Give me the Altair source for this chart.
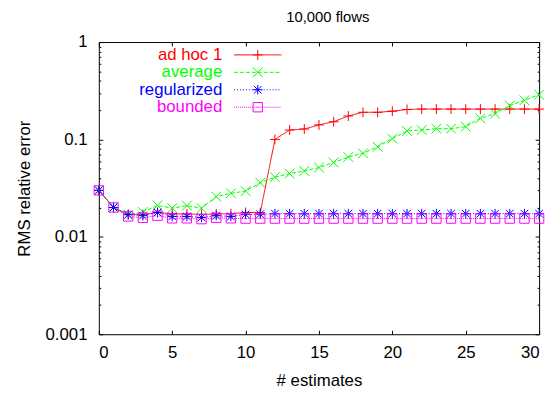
import altair as alt
import pandas as pd

# ---------------- data ----------------
x_vals = list(range(31))
ad_hoc = [0.030, 0.020, 0.0170, 0.0170, 0.0178, 0.0172, 0.0172, 0.0170, 0.0172, 0.0173,
          0.0178, 0.0177, 0.100, 0.125, 0.128, 0.141, 0.152, 0.174, 0.190, 0.190,
          0.195, 0.203, 0.205, 0.205, 0.205, 0.205, 0.205, 0.205, 0.205, 0.205, 0.205]
average = [0.030, 0.0202, 0.0169, 0.0180, 0.0210, 0.0197, 0.0209, 0.0197, 0.0259, 0.0280,
           0.0295, 0.0360, 0.0410, 0.0446, 0.0474, 0.0515, 0.058, 0.066, 0.072, 0.084,
           0.102, 0.122, 0.125, 0.129, 0.129, 0.135, 0.165, 0.184, 0.223, 0.252, 0.288]
regularized = [0.030, 0.020, 0.0169, 0.0165, 0.0178, 0.0162, 0.0162, 0.0158, 0.0165, 0.0162,
               0.0170, 0.0171, 0.0173, 0.0173, 0.0173, 0.0173, 0.0173, 0.0173, 0.0173, 0.0173,
               0.0173, 0.0173, 0.0173, 0.0173, 0.0173, 0.0173, 0.0173, 0.0173, 0.0173, 0.0173, 0.0173]
bounded = [0.030, 0.020, 0.0162, 0.0157, 0.0165, 0.0155, 0.0155, 0.0152, 0.0157, 0.0155,
           0.0154, 0.0154, 0.0154, 0.0154, 0.0154, 0.0154, 0.0154, 0.0154, 0.0154, 0.0154,
           0.0154, 0.0154, 0.0154, 0.0154, 0.0154, 0.0154, 0.0154, 0.0154, 0.0154, 0.0154, 0.0154]

series_names = ["ad hoc 1", "average", "regularized", "bounded"]
series_values = [ad_hoc, average, regularized, bounded]
colors = ["#ff0000", "#00ff00", "#0000ff", "#ff00ff"]
dashes = [[1, 0], [4, 2], [1, 2], [1, 1]]
shapes = ["M-1,0L1,0M0,-1L0,1",
          "M-1,-1L1,1M-1,1L1,-1",
          "M-1,0L1,0M0,-1L0,1M-0.8,-0.8L0.8,0.8M-0.8,0.8L0.8,-0.8",
          "M-1,-1L1,-1L1,1L-1,1ZM-0.1,0L0.1,0"]
sizes = [100, 90, 90, 70]

x_ticks = [0, 5, 10, 15, 20, 25, 30]
y_major = [0.001, 0.01, 0.1, 1]
y_minor = [m * 10.0 ** e for e in (-3, -2, -1) for m in range(2, 10)]

rows = []
for name, vals in zip(series_names, series_values):
    for xv, yv in zip(x_vals, vals):
        rows.append({"x": xv, "value": yv, "series": name})
df = pd.DataFrame(rows)
legend_df = pd.DataFrame({"series": series_names})

W, H = 446, 296
FONT = "Liberation Sans"
FS = 17

def xs():
    return alt.Scale(domain=[0, 30], nice=False, zero=False)

def ys():
    return alt.Scale(type="log", domain=[0.001, 1], nice=False)

color_enc = alt.Color("series:N", scale=alt.Scale(domain=series_names, range=colors), legend=None)
dash_enc = alt.StrokeDash("series:N", scale=alt.Scale(domain=series_names, range=dashes), legend=None)
shape_enc = alt.Shape("series:N", scale=alt.Scale(domain=series_names, range=shapes), legend=None)
size_enc = alt.Size("series:N", scale=alt.Scale(domain=series_names, range=sizes), legend=None)

def tick_axis(orient, values, size):
    return alt.Axis(orient=orient, values=values, labels=False, domain=False, grid=False,
                    ticks=True, tickSize=size, offset=-size, title=None, tickColor="black")

base = alt.Chart(df)

lines = base.mark_line(strokeWidth=1).encode(
    x=alt.X("x:Q", scale=xs(), axis=alt.Axis(orient="bottom", values=x_ticks, ticks=False, tickSize=0,
                                            domain=False, grid=False, labelPadding=11,
                                            title="# estimates", titlePadding=12)),
    y=alt.Y("value:Q", scale=ys(), axis=alt.Axis(orient="left", values=y_major, format="~g", ticks=False,
                                               tickSize=0, domain=False, grid=False, labelPadding=12,
                                               title="RMS relative error", titlePadding=12)),
    color=color_enc,
    strokeDash=dash_enc,
)

points = base.mark_point(filled=False, strokeWidth=1, opacity=1).encode(
    x=alt.X("x:Q", scale=xs(), axis=tick_axis("bottom", x_ticks, 4)),
    y=alt.Y("value:Q", scale=ys(), axis=tick_axis("left", y_major, 4)),
    color=color_enc,
    shape=shape_enc,
    size=size_enc,
)

ghost1 = base.mark_point(opacity=0).encode(
    x=alt.X("x:Q", scale=xs(), axis=tick_axis("top", x_ticks, 4)),
    y=alt.Y("value:Q", scale=ys(), axis=tick_axis("right", y_major, 4)),
)
ghost2 = base.mark_point(opacity=0).encode(
    x=alt.X("x:Q", scale=xs(), axis=None),
    y=alt.Y("value:Q", scale=ys(), axis=tick_axis("left", y_minor, 2)),
)
ghost3 = base.mark_point(opacity=0).encode(
    x=alt.X("x:Q", scale=xs(), axis=None),
    y=alt.Y("value:Q", scale=ys(), axis=tick_axis("right", y_minor, 2)),
)

leg_y = alt.Y("series:N", scale=alt.Scale(type="point", domain=series_names, range=[13, 66], padding=0),
              axis=None)
leg_base = alt.Chart(legend_df)
leg_text = leg_base.mark_text(align="right", baseline="middle", font=FONT, fontSize=FS).encode(
    x=alt.value(125), y=leg_y, text="series:N", color=color_enc)
leg_rule = leg_base.mark_rule(strokeWidth=1).encode(
    x=alt.value(137), x2=alt.value(185), y=leg_y, color=color_enc, strokeDash=dash_enc)
leg_pt = leg_base.mark_point(filled=False, strokeWidth=1, opacity=1).encode(
    x=alt.value(161), y=leg_y, color=color_enc, shape=shape_enc, size=size_enc)

chart = alt.layer(lines, points, ghost1, ghost2, ghost3, leg_text, leg_rule, leg_pt).resolve_scale(
    x="independent", y="independent"
).properties(
    width=W, height=H,
    title=alt.TitleParams("10,000 flows", frame="group", offset=8, anchor="middle",
                          font=FONT, fontSize=15, fontWeight="normal", color="black", dx=9),
    autosize=alt.AutoSizeParams(type="none"),
    padding={"left": 92, "top": 32, "right": 8, "bottom": 55},
).configure_axis(
    labelFont=FONT, labelFontSize=FS, labelColor="black",
    titleFont=FONT, titleFontSize=FS, titleFontWeight="normal", titleColor="black",
).configure_view(stroke="black", strokeWidth=1)

chart.save("out.html", embed_options={"renderer": "svg", "actions": False})
